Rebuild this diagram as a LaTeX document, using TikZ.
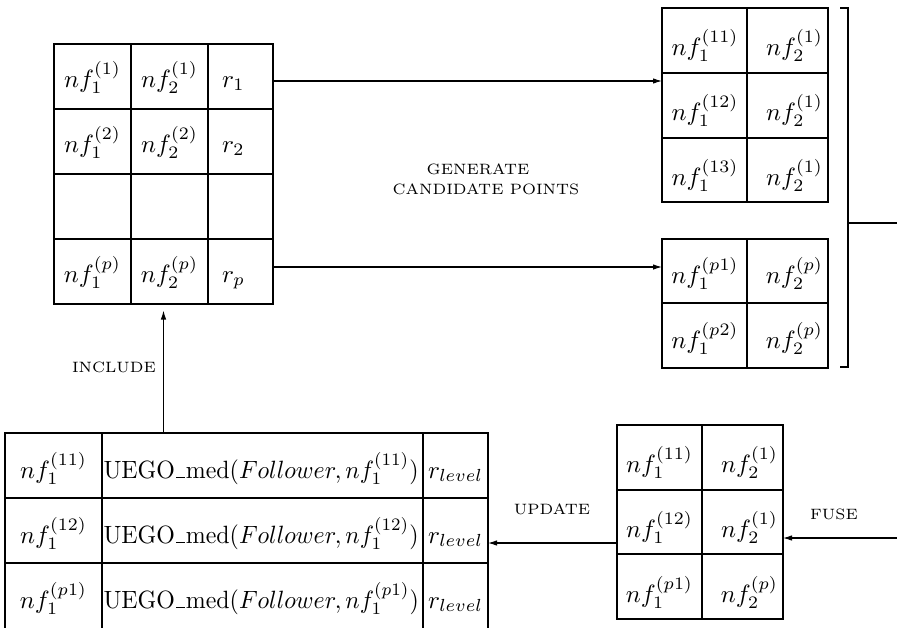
\documentclass[tikz,border=0pt]{standalone}
\usetikzlibrary{arrows.meta,calc}
\newcommand\pxu{0.4pt}
\newcommand\uscore{\kern.06em\rule{.36em}{.4pt}\kern.04em}
\newcommand\uegotext[1]{\scalebox{0.955}[1]{UEGO\uscore med$(Follower,nf_1^{(#1)})$}}
\begin{document}
\begin{tikzpicture}[x=0.4pt,y=-0.4pt,
  tbl/.style={draw, line width=0.42pt, inner sep=0pt, outer sep=0pt, anchor=north west},
  gridline/.style={line width=0.62pt},
  cell/.style={inner sep=0pt, outer sep=0pt, font=\normalsize},
  arr/.style={-{Latex[length=3.6pt,width=2.2pt]}, line width=0.42pt},
  lbl/.style={font=\fontsize{6}{7}\selectfont, inner sep=0pt},
  brk/.style={line width=0.45pt}]
\useasboundingbox (0,0) rectangle (897,627);
\clip (0,0) rectangle (897,627);

% ---------------- top-left table ----------------
\node[tbl, minimum width=219*\pxu, minimum height=260*\pxu] (TL) at (54,44) {};
\draw[gridline] (131,44) -- (131,304) (208,44) -- (208,304)
  (54,109) -- (273,109) (54,174) -- (273,174) (54,239) -- (273,239);
\node[cell, anchor=base] (tl11) at (92.5,87) {$nf_1^{(1)}$};
\node[cell, anchor=base] (tl12) at (169.5,87) {$nf_2^{(1)}$};
\node[cell, anchor=base west] (tl13) at (222,87) {$r_1$};
\node[cell, anchor=base] (tl21) at (92.5,152) {$nf_1^{(2)}$};
\node[cell, anchor=base] (tl22) at (169.5,152) {$nf_2^{(2)}$};
\node[cell, anchor=base west] (tl23) at (222,152) {$r_2$};
\node[cell, anchor=base] (tl41) at (92.5,282) {$nf_1^{(p)}$};
\node[cell, anchor=base] (tl42) at (169.5,282) {$nf_2^{(p)}$};
\node[cell, anchor=base west] (tl43) at (222,282) {$r_p$};

% ---------------- upper right table ----------------
\node[tbl, minimum width=166*\pxu, minimum height=194*\pxu] (UR) at (662,8) {};
\draw[gridline] (747,8) -- (747,202) (662,73) -- (828,73) (662,138) -- (828,138);
\node[cell, anchor=base] (ur11) at (705,55) {$nf_1^{(11)}$};
\node[cell, anchor=base east] (ur12) at (823,55) {$nf_2^{(1)}$};
\node[cell, anchor=base] (ur21) at (705,120) {$nf_1^{(12)}$};
\node[cell, anchor=base east] (ur22) at (823,120) {$nf_2^{(1)}$};
\node[cell, anchor=base] (ur31) at (705,185) {$nf_1^{(13)}$};
\node[cell, anchor=base east] (ur32) at (823,185) {$nf_2^{(1)}$};

% ---------------- second right table ----------------
\node[tbl, minimum width=166*\pxu, minimum height=129*\pxu] (URB) at (662,239) {};
\draw[gridline] (747,239) -- (747,368) (662,303) -- (828,303);
\node[cell, anchor=base] (urb11) at (705,283) {$nf_1^{(p1)}$};
\node[cell, anchor=base east] (urb12) at (823,283) {$nf_2^{(p)}$};
\node[cell, anchor=base] (urb21) at (705,348) {$nf_1^{(p2)}$};
\node[cell, anchor=base east] (urb22) at (823,348) {$nf_2^{(p)}$};

% bracket
\draw[brk] (840,8) -- (848,8) -- (848,367) -- (840,367);
\coordinate (bmid) at (848,223);
\coordinate (bout) at (897,223);
\draw[brk] (bmid) -- (bout);

% ---------------- lower right table ----------------
\node[tbl, minimum width=166*\pxu, minimum height=194*\pxu] (LR) at (617,425) {};
\draw[gridline] (702,425) -- (702,619) (617,490) -- (783,490) (617,554) -- (783,554);
\node[cell, anchor=base] (lr11) at (659.5,472) {$nf_1^{(11)}$};
\node[cell, anchor=base east] (lr12) at (778,472) {$nf_2^{(1)}$};
\node[cell, anchor=base] (lr21) at (659.5,537) {$nf_1^{(12)}$};
\node[cell, anchor=base east] (lr22) at (778,537) {$nf_2^{(1)}$};
\node[cell, anchor=base] (lr31) at (659.5,602) {$nf_1^{(p1)}$};
\node[cell, anchor=base east] (lr32) at (778,602) {$nf_2^{(p)}$};

% ---------------- bottom-left table ----------------
\node[tbl, minimum width=483*\pxu, minimum height=210*\pxu] (BL) at (5,433) {};
\draw[gridline] (102,433) -- (102,643) (423,433) -- (423,643)
  (5,498) -- (488,498) (5,563) -- (488,563);
\node[cell, anchor=base] (bl11) at (53.5,478) {$nf_1^{(11)}$};
\node[cell, anchor=base west] (bl12) at (103.5,478) {\uegotext{11}};
\node[cell, anchor=base west] (bl13) at (428,478) {$r_{level}$};
\node[cell, anchor=base] (bl21) at (53.5,543) {$nf_1^{(12)}$};
\node[cell, anchor=base west] (bl22) at (103.5,543) {\uegotext{12}};
\node[cell, anchor=base west] (bl23) at (428,543) {$r_{level}$};
\node[cell, anchor=base] (bl31) at (53.5,608) {$nf_1^{(p1)}$};
\node[cell, anchor=base west] (bl32) at (103.5,608) {\uegotext{p1}};
\node[cell, anchor=base west] (bl33) at (428,608) {$r_{level}$};

% ---------------- connectors ----------------
\draw[arr] ($(TL.north east)+(0,37)$) coordinate (g1) -- (g1 -| UR.west);
\draw[arr] ($(TL.south east)+(0,-37)$) coordinate (g2) -- (g2 -| URB.west);
\draw[arr, shorten >=2.6pt] (BL.north -| TL.south) -- (TL.south);
\draw[arr] ($(LR.north west)+(0,118)$) coordinate (u1) -- (u1 -| BL.east);
\coordinate (fin) at (897,538);
\draw[arr] (fin) -- (fin -| LR.east);

% ---------------- labels ----------------
\node[lbl] (gen1) at (478,169) {GENERATE};
\node[lbl] (gen2) at (486,189) {CANDIDATE POINTS};
\node[lbl] (inc) at (114,367.5) {INCLUDE};
\node[lbl] (upd) at (552,509.5) {UPDATE};
\node[lbl] (fus) at (834,514) {FUSE};
\end{tikzpicture}
\end{document}
